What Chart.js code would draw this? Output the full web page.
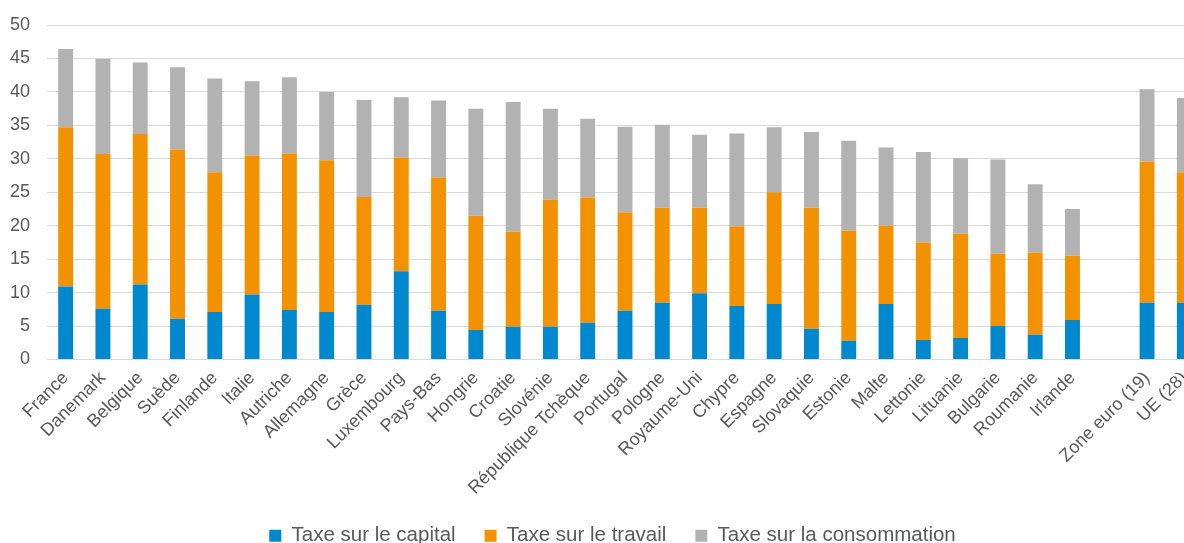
<!DOCTYPE html>
<html>
<head>
<meta charset="utf-8">
<script src="https://cdn.jsdelivr.net/npm/chart.js@4"></script>
<style>
  html, body { margin: 0; padding: 0; overflow: hidden; background: #fff; }
  #wrap { width: 1223px; height: 556px; }
</style>
</head>
<body>
<div id="wrap"><canvas id="myChart"></canvas></div>
<script>
// Pays, puis un emplacement vide avant les agrégats
var categories = ['France', 'Danemark', 'Belgique', 'Suède', 'Finlande', 'Italie', 'Autriche',
    'Allemagne', 'Grèce', 'Luxembourg', 'Pays-Bas', 'Hongrie', 'Croatie', 'Slovénie',
    'République Tchèque', 'Portugal', 'Pologne', 'Royaume-Uni', 'Chypre', 'Espagne',
    'Slovaquie', 'Estonie', 'Malte', 'Lettonie', 'Lituanie', 'Bulgarie', 'Roumanie',
    'Irlande', '', 'Zone euro (19)', 'UE (28)'];

var capital = [10.9, 7.6, 11.2, 6.1, 7.1, 9.7, 7.4, 7.1, 8.2, 13.2, 7.3, 4.4, 4.9, 4.9,
    5.5, 7.3, 8.5, 9.9, 8.0, 8.3, 4.6, 2.8, 8.3, 2.9, 3.2, 5.0, 3.7, 5.9, null, 8.5, 8.5];

var travail = [23.8, 23.1, 22.5, 25.3, 20.9, 20.8, 23.4, 22.7, 16.1, 17.0, 19.9, 17.1, 14.2, 19.0,
    18.7, 14.7, 14.2, 12.8, 11.9, 16.7, 18.1, 16.5, 11.7, 14.6, 15.6, 10.8, 12.3, 9.6, null, 21.1, 19.5];

var consommation = [11.7, 14.2, 10.7, 12.3, 14.0, 11.1, 11.4, 10.2, 14.5, 9.0, 11.5, 16.0, 19.4, 13.6,
    11.8, 12.8, 12.4, 10.9, 13.9, 9.7, 11.3, 13.4, 11.7, 13.5, 11.3, 14.1, 10.2, 7.0, null, 10.8, 11.1];

var yTicks = [0, 5, 10, 15, 20, 25, 30, 35, 40, 45, 50];

var textColor = '#595959';
var gridColor = '#d9d9d9';
Chart.defaults.font.family = '"Liberation Sans", Arial, sans-serif';
Chart.defaults.color = textColor;

// nudge the legend so it sits centred on the whole figure, not the padded box
var legendShift = {
    id: 'legendShift',
    afterLayout: function (chart) {
        var lg = chart.legend;
        if (lg) {
            lg.left += 11;
            lg.right += 11;
        }
    }
};

var ctx = document.getElementById('myChart').getContext('2d');
var myChart = new Chart(ctx, {
    type: 'bar',
    data: {
        labels: categories,
        datasets: [{
                label: 'Taxe sur le capital',
                data: capital,
                backgroundColor: '#0088ce'
            },
            {
                label: 'Taxe sur le travail',
                data: travail,
                backgroundColor: '#f39200'
            },
            {
                label: 'Taxe sur la consommation',
                data: consommation,
                backgroundColor: '#b2b2b2'
            }
        ]
    },
    plugins: [legendShift],
    options: {
        responsive: true,
        maintainAspectRatio: false,
        animation: false,
        categoryPercentage: 0.4,
        barPercentage: 1,
        layout: {
            padding: { top: 0, right: 20, left: 0, bottom: 0 }
        },
        plugins: {
            tooltip: { enabled: false },
            legend: {
                position: 'bottom',
                labels: {
                    boxWidth: 12,
                    boxHeight: 12,
                    padding: 29,
                    color: textColor,
                    font: { size: 20.5 }
                }
            }
        },
        scales: {
            x: {
                stacked: true,
                grid: { display: false, drawTicks: false },
                border: { color: gridColor },
                ticks: {
                    autoSkip: false,
                    minRotation: 45,
                    maxRotation: 45,
                    padding: 8,
                    font: { size: 18 }
                },
                afterFit: function (axis) { axis.height = 137; }
            },
            y: {
                stacked: true,
                min: 0,
                max: 50,
                afterBuildTicks: function (axis) {
                    axis.ticks = yTicks.map(function (v) { return { value: v }; });
                },
                grid: { color: gridColor, drawTicks: false },
                border: { display: false },
                ticks: {
                    padding: 17,
                    font: { size: 18 }
                },
                afterFit: function (axis) {
                    axis.width = 47;
                    axis.paddingTop = 25;
                }
            }
        }
    }
});
</script>
</body>
</html>
